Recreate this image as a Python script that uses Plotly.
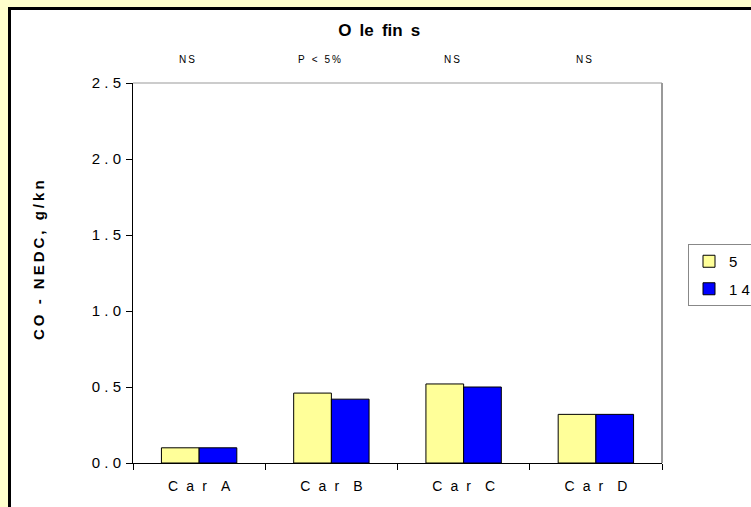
import plotly.graph_objects as go

# Data
categories = ["Car A", "Car B", "Car C", "Car D"]
series_names = ["5", "14"]
values_5 = [0.10, 0.46, 0.52, 0.32]
values_14 = [0.10, 0.42, 0.50, 0.32]
significance = ["NS", "P < 5%", "NS", "NS"]
y_ticks = [0.0, 0.5, 1.0, 1.5, 2.0, 2.5]

title_text = "Olefins"
y_title = "CO - NEDC, g/kn"

FONT = "Liberation Sans, Arial, sans-serif"
EN = "\u2002"
THIN = "\u2009"


def spread(s, gap=" ", word_gap=None):
    """Letter-spaced rendering of a label."""
    if word_gap is None:
        word_gap = gap * 2
    return word_gap.join(gap.join(w) for w in s.split(" "))


# Plot-area geometry in pixels (used to place the framing elements)
W, H = 751, 507
L, R, T, B = 133, 662, 83, 463


def px_x(px):
    return (px - L) / (R - L)


def px_y(py):
    return (B - py) / (B - T)


fig = go.Figure()
fig.add_trace(go.Bar(
    x=categories, y=values_5, name=spread(series_names[0]), legendgroup="a",
    marker=dict(color="#FFFF99", line=dict(color="#000000", width=1)),
))
fig.add_trace(go.Bar(
    x=categories, y=values_14, name=spread(series_names[1]), legendgroup="b",
    marker=dict(color="#0000FF", line=dict(color="#000000", width=1)),
))

# White chart panel with a heavy black frame over the pale-yellow page
fig.add_shape(type="rect", xref="paper", yref="paper", layer="below",
              x0=px_x(9.5), x1=px_x(770), y0=px_y(530), y1=px_y(8.5),
              fillcolor="white", line=dict(color="black", width=3))
# Grey plot-area border (top and right)
fig.add_shape(type="line", xref="paper", yref="paper",
              x0=0, x1=1, y0=1, y1=1, line=dict(color="#999999", width=1))
fig.add_shape(type="line", xref="paper", yref="paper",
              x0=1, x1=1, y0=0, y1=1, line=dict(color="#999999", width=2))

# Significance labels above each car
for cat, sig in zip(categories, significance):
    fig.add_annotation(x=cat, xref="x", y=px_y(60), yref="paper",
                       yanchor="middle",
                       text=spread(sig, THIN, EN + THIN),
                       showarrow=False, xshift=-12,
                       font=dict(family=FONT, size=10, color="black"))

# Vertical axis title
fig.add_annotation(x=px_x(38), y=px_y(260), xref="paper", yref="paper",
                   xanchor="center", yanchor="middle",
                   text="<b>" + THIN.join(y_title) + "</b>",
                   textangle=-90, showarrow=False,
                   font=dict(family=FONT, size=15, color="black"))

fig.update_layout(
    width=W, height=H,
    margin=dict(l=L, r=W - R, t=T, b=H - B, autoexpand=False),
    paper_bgcolor="#FFFFCC",
    plot_bgcolor="white",
    barmode="group",
    bargap=0.43,
    bargroupgap=0,
    title=dict(text="<b>" + "O le fin s".replace(" ", " " + THIN) + "</b>",
               x=0.505, y=1 - 30 / H, xanchor="center", yanchor="middle",
               font=dict(family=FONT, size=17, color="black")),
    font=dict(family=FONT, color="black"),
    legend=dict(x=px_x(688), y=px_y(244), xanchor="left", yanchor="top",
                bgcolor="white", bordercolor="#888888", borderwidth=1,
                font=dict(family=FONT, size=15, color="black"),
                traceorder="grouped", tracegroupgap=5),
    showlegend=True,
)

fig.update_xaxes(
    tickvals=categories,
    ticktext=[spread(c, EN + "\u200a", EN * 2) for c in categories],
    tickson="boundaries", ticks="outside", ticklen=6, tickcolor="black",
    ticklabelstandoff=10,
    showline=True, linecolor="black", linewidth=1,
    showgrid=False, zeroline=False,
    tickfont=dict(family=FONT, size=14, color="black"),
)
fig.update_yaxes(
    range=[0, 2.5], tickvals=y_ticks,
    ticktext=[spread(f"{v:.1f}") for v in y_ticks],
    ticks="outside", ticklen=6, tickcolor="black",
    ticklabelstandoff=2,
    showline=True, linecolor="black", linewidth=1,
    showgrid=False, zeroline=False,
    tickfont=dict(family=FONT, size=15, color="black"),
)

fig.write_html("out.html")
